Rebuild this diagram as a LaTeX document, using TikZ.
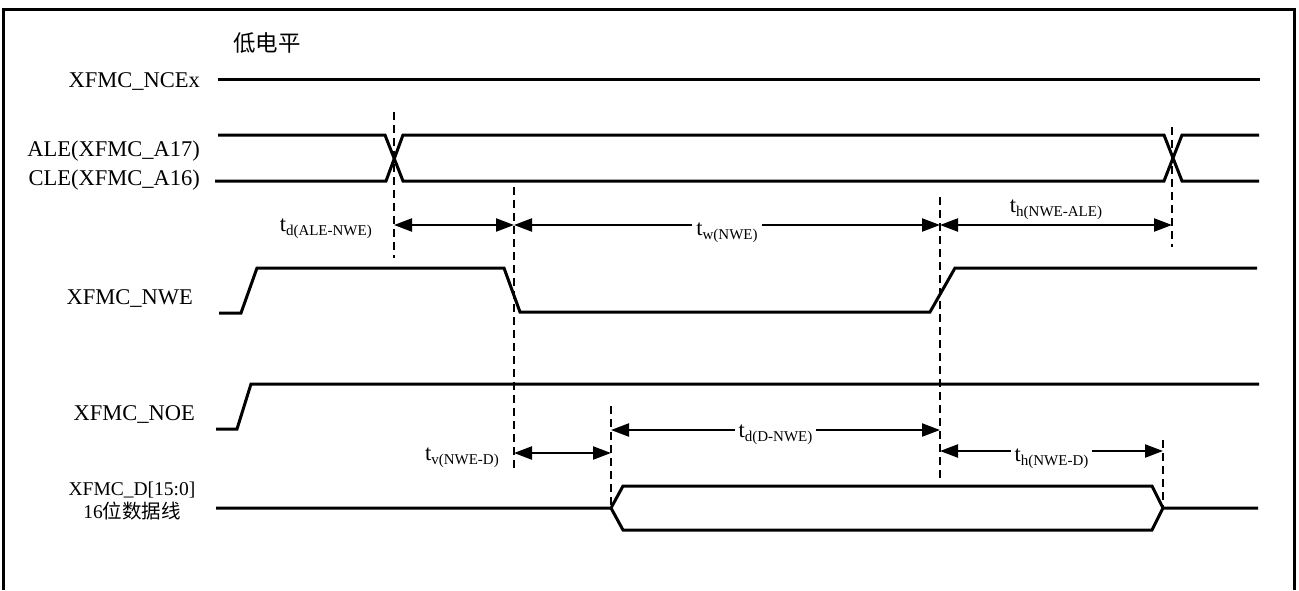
\documentclass[tikz,border=0pt]{standalone}
\usepackage{fontspec}
\setmainfont{Liberation Serif}
\newfontfamily\cjk{Noto Sans CJK SC}
\usetikzlibrary{arrows.meta}
\tikzset{
  sigline/.style={line width=3pt,line join=miter},
  markline/.style={line width=1.4pt,dash pattern=on 8pt off 5pt},
  timearrow/.style={{Triangle[length=18pt,width=13pt]}-{Triangle[length=18pt,width=13pt]},line width=2.3pt},
  siglabel/.style={font=\fontsize{22.5}{27}\selectfont,anchor=base east,inner sep=0pt},
  timelabel/.style={font=\fontsize{22.5}{27}\selectfont,inner sep=1pt,inner xsep=4pt}
}
\newcommand\tname[1]{t\raisebox{-4.5pt}{\fontsize{15}{15}\selectfont #1}}

\begin{document}
\begin{tikzpicture}[x=1pt,y=-1pt]
  \useasboundingbox (0,0) rectangle (1299,590);
  \draw[line width=3pt] (3,590) -- (3,9) -- (1294,9) -- (1294,590);

  % signal names
  \node[siglabel,anchor=base west] (lowlvl) at (233,51) {\cjk 低电平};
  \node[siglabel] (ncelab) at (200,87) {XFMC\_NCEx};
  \node[siglabel] (alelab) at (200,156) {ALE(XFMC\_A17)};
  \node[siglabel] (clelab) at (200,185) {CLE(XFMC\_A16)};
  \node[siglabel] (nwelab) at (193,304) {XFMC\_NWE};
  \node[siglabel] (noelab) at (195,420) {XFMC\_NOE};
  \node[siglabel,anchor=base,font=\fontsize{19.5}{23}\selectfont] (datalab) at (132,495) {XFMC\_D[15:0]};
  \node[siglabel,anchor=base,font=\fontsize{19.5}{23}\selectfont] (datacn) at (132,518) {16{\cjk 位数据线}};

  % waveforms
  \draw[sigline] (218,79) -- (1260,79);
  \draw[sigline] (218,135) -- (385,135) -- (403,181) -- (1164,181) -- (1182,135) -- (1259,135);
  \draw[sigline] (215,181) -- (386,181) -- (403,135) -- (1164,135) -- (1182,181) -- (1259,181);
  \draw[sigline] (219,313) -- (241,313) -- (257,268) -- (504,268) -- (520,312) -- (930,312) -- (955,268) -- (1257,268);
  \draw[sigline] (216,429) -- (237,429) -- (251,384) -- (1259,384);
  \draw[sigline] (216,508) -- (611,508) -- (623,486) -- (1152,486) -- (1163,508) -- (1258,508);
  \draw[sigline] (611,508) -- (623,530) -- (1152,530) -- (1163,508);

  % timing markers
  \foreach \name/\x in {mA/394,mB/514,mC/611,mD/940,mE/1163,mF/1172}
    \coordinate (\name) at (\x,0);
  \draw[markline] (mA |- 0,112) -- (mA |- 0,258);
  \draw[markline] (mB |- 0,187) -- (mB |- 0,468);
  \draw[markline] (mD |- 0,197) -- (mD |- 0,478);
  \draw[markline] (mF |- 0,127) -- (mF |- 0,247);
  \draw[markline] (mC |- 0,406) -- (mC |- 0,508);
  \draw[markline] (mE |- 0,440) -- (mE |- 0,508);

  \draw[timearrow] (mA |- 0,225) -- (mB |- 0,225);
  \node[timelabel,anchor=base east] (tdale) at (376,231) {\tname{d(ALE-NWE)}};
  \draw[timearrow] (mB |- 0,225) -- (mD |- 0,225)
    node[timelabel,midway,anchor=base,yshift=-10pt,fill=white] (twnwe) {\tname{w(NWE)}};
  \draw[timearrow] (mD |- 0,225) -- (mF |- 0,225)
    node[timelabel,midway,anchor=base,yshift=13pt] (thale) {\tname{h(NWE-ALE)}};
  \draw[timearrow] (mC |- 0,430) -- (mD |- 0,430)
    node[timelabel,midway,anchor=base,yshift=-7pt,fill=white] (tddnwe) {\tname{d(D-NWE)}};
  \draw[timearrow] (mB |- 0,453) -- (mC |- 0,453);
  \node[timelabel,anchor=base east] (tvnwe) at (503,460) {\tname{v(NWE-D)}};
  \draw[timearrow] (mD |- 0,451) -- (mE |- 0,451)
    node[timelabel,midway,anchor=base,yshift=-10pt,fill=white] (thnwed) {\tname{h(NWE-D)}};
\end{tikzpicture}
\end{document}
